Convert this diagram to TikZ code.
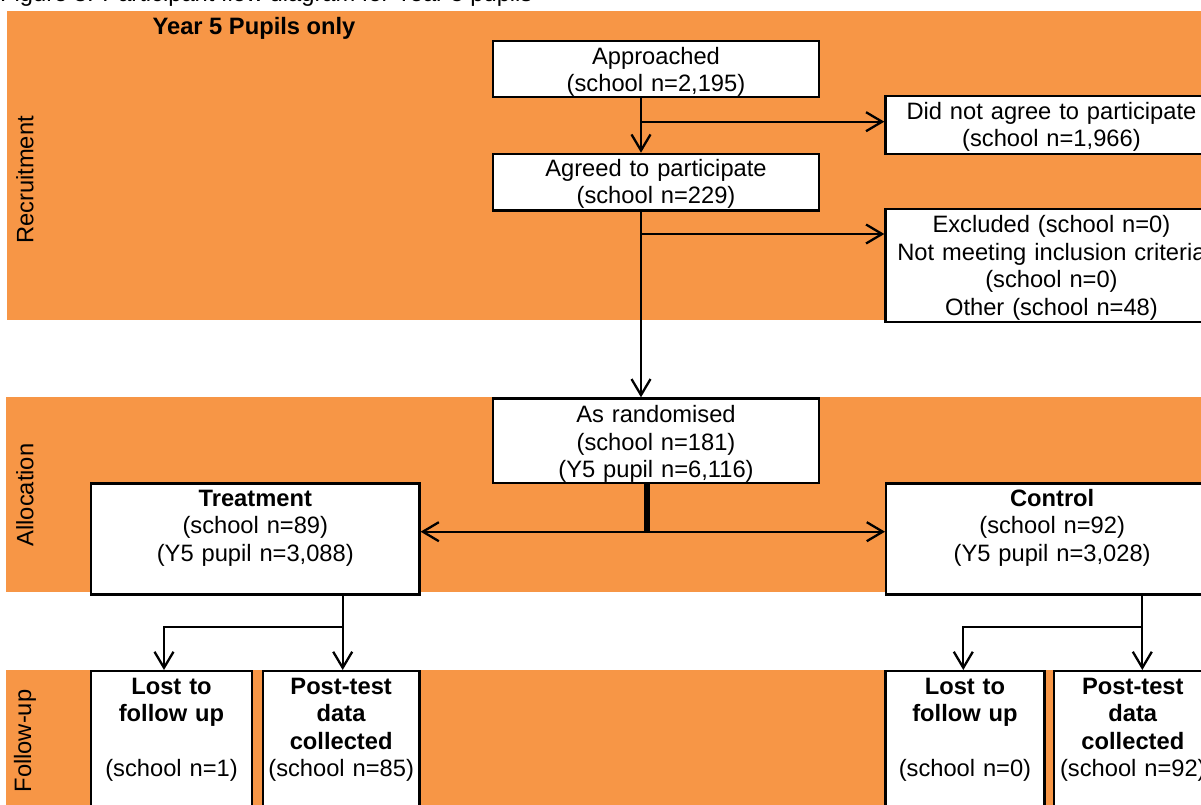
\documentclass[tikz,border=0pt]{standalone}
\usepackage{fontspec}
\setmainfont{Liberation Sans}
\usetikzlibrary{arrows.meta}
\definecolor{band}{HTML}{F79646}
\newcommand\diagfont{\fontsize{23.7}{27.5}\selectfont}

\begin{document}
\begin{tikzpicture}[x=1pt,y=-1pt,
  every node/.style={font=\diagfont},
  box/.style={draw, line width=2.3pt, fill=white, align=center,
    inner xsep=0pt, inner ysep=0pt, anchor=north west},
  conn/.style={line width=2.3pt, line join=miter, -{Straight Barb[length=16pt,width=19pt]}},
  bandlabel/.style={rotate=90, anchor=center, inner sep=0pt},
]
\useasboundingbox (0,0) rectangle (1201,805);
\clip (0,0) rectangle (1201,805);

% stage bands
\fill[band] (7,11) rectangle (1215,320);
\fill[band] (6,397) rectangle (1215,592);
\fill[band] (6,670) rectangle (1215,830);

% caption and headings
\node[anchor=base west, inner sep=0pt] (cap) at (0,1.5) {Figure 3: Participant flow diagram for Year 5 pupils};
\node[anchor=base, inner sep=0pt, font=\diagfont\bfseries] (yr) at (254,35) {Year 5 Pupils only};
\node[bandlabel] (lrec) at (25,180) {Recruitment};
\node[bandlabel] (lall) at (25,495) {Allocation};
\node[bandlabel] (lfol) at (25,741) {Follow-up};

% recruitment
\node[box, text width=325.7pt, text height=23pt, text depth=33pt] (appr) at (492,40)
  {Approached\\(school n=2,195)};
\node[box, text width=325.7pt, text height=22.3pt, text depth=34.3pt] (agree) at (492,152.7)
  {Agreed to participate\\(school n=229)};
\node[box, text width=332pt, text height=23pt, text depth=34.7pt] (dna) at (884.3,95)
  {Did not agree to participate\\(school n=1,966)};
\node[box, text width=332pt, text height=23.7pt, text depth=89pt] (excl) at (884.3,208)
  {Excluded (school n=0)\\Not meeting inclusion criteria\\(school n=0)\\Other (school n=48)};

% allocation
\node[box, text width=325.7pt, text height=24.4pt, text depth=60pt] (rand) at (492,397.3)
  {As randomised\\(school n=181)\\(Y5 pupil n=6,116)};
\node[box, text width=328.3pt, text height=22.7pt, text depth=88.3pt] (treat) at (90,482.3)
  {\textbf{Treatment}\\(school n=89)\\(Y5 pupil n=3,088)};
\node[box, text width=332pt, text height=22.7pt, text depth=88.3pt] (ctrl) at (885,482.3)
  {\textbf{Control}\\(school n=92)\\(Y5 pupil n=3,028)};

% follow-up
\node[box, text width=160.7pt, text height=23pt, text depth=150pt] (lost1) at (90,670)
  {\textbf{Lost to}\\\textbf{follow up}\\\mbox{}\\(school n=1)};
\node[box, text width=156.6pt, text height=23pt, text depth=150pt] (post1) at (261.7,670)
  {\textbf{Post-test}\\\textbf{data}\\\textbf{collected}\\(school n=85)};
\node[box, text width=159pt, text height=23pt, text depth=150pt] (lost2) at (884.3,670)
  {\textbf{Lost to}\\\textbf{follow up}\\\mbox{}\\(school n=0)};
\node[box, text width=158pt, text height=23pt, text depth=150pt] (post2) at (1052.7,670)
  {\textbf{Post-test}\\\textbf{data}\\\textbf{collected}\\(school n=92)};

% connector guide positions
\coordinate (xa) at (641,0);
\coordinate (b1) at (641,121.7);
\coordinate (b2) at (641,234);
\coordinate (xr) at (646.7,0);
\coordinate (hy) at (0,531.7);
\coordinate (xt) at (342.7,0);
\coordinate (xl) at (164,0);
\coordinate (xc) at (1142.3,0);
\coordinate (xm) at (963.3,0);
\coordinate (by) at (0,626.7);

% recruitment flow
\draw[conn] (appr.south -| xa) -- (agree.north -| xa);
\draw[conn] (b1) -- (b1 -| dna.west);
\draw[conn] (agree.south -| xa) -- (rand.north -| xa);
\draw[conn] (b2) -- (b2 -| excl.west);

% randomisation split
\draw[line width=6pt] (rand.south -| xr) -- (xr |- hy);
\draw[line width=2.3pt, {Straight Barb[length=16pt,width=19pt]}-{Straight Barb[length=16pt,width=19pt]}]
  (hy -| treat.east) -- (hy -| ctrl.west);

% follow-up flow
\draw[conn] (treat.south -| xt) -- (post1.north -| xt);
\draw[conn] (by -| xt) -- (by -| xl) -- (lost1.north -| xl);
\draw[conn] (ctrl.south -| xc) -- (post2.north -| xc);
\draw[conn] (by -| xc) -- (by -| xm) -- (lost2.north -| xm);
\end{tikzpicture}
\end{document}
